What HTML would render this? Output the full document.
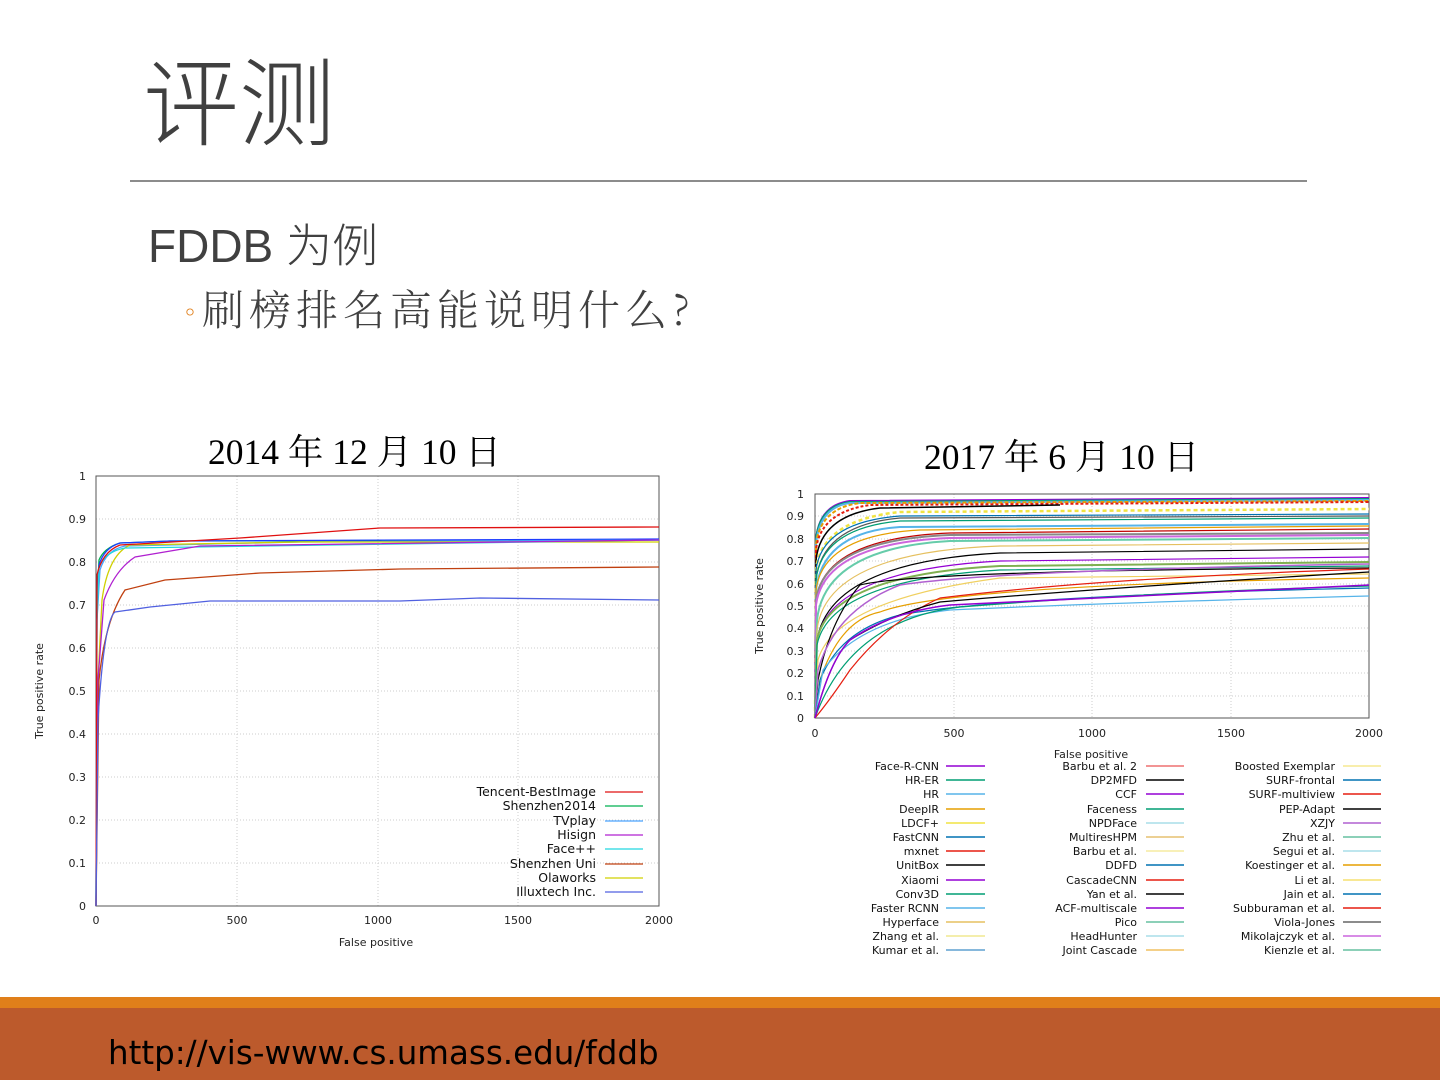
<!DOCTYPE html>
<html><head><meta charset="utf-8"><style>
html,body{margin:0;padding:0;background:#fff;}
body{width:1440px;height:1080px;position:relative;overflow:hidden;font-family:"Liberation Sans","Noto Sans CJK SC",sans-serif;}
.t{position:absolute;white-space:nowrap;}
</style></head><body>
<div class="t" style="left:143px;top:32px;font-size:96px;color:#404040;font-family:'Noto Sans CJK SC',sans-serif;font-weight:300;line-height:130px;">评测</div>
<div style="position:absolute;left:130px;top:180px;width:1177px;height:2px;background:#8c8c8c"></div>
<div class="t" style="left:148px;top:208px;font-size:46px;color:#404040;line-height:70px;font-family:'Liberation Sans Narrow','Liberation Sans','Noto Sans CJK SC',sans-serif;">FDDB <span style="font-family:'Noto Sans CJK SC',sans-serif;font-weight:300">为例</span></div>
<div class="t" style="left:178px;top:280px;font-size:42px;letter-spacing:5px;color:#404040;line-height:56px;font-family:'Noto Serif CJK SC','Noto Sans CJK SC',serif;font-weight:300;"><span style="color:#e07f1a;font-size:24px;vertical-align:4px;letter-spacing:0">◦</span>刷榜排名高能说明什么?</div>
<div class="t" style="left:208px;top:424px;font-size:35.5px;color:#000;font-family:'Liberation Serif','Noto Serif CJK SC',serif;">2014 年 12 月 10 日</div>
<div class="t" style="left:924px;top:429px;font-size:35.5px;color:#000;font-family:'Liberation Serif','Noto Serif CJK SC',serif;">2017 年 6 月 10 日</div>

<svg style="position:absolute;left:0;top:0" width="1440" height="1080" font-family="DejaVu Sans, sans-serif">
<g stroke="#ccc" stroke-dasharray="1,2" stroke-width="1">
<line x1="96" y1="519" x2="659" y2="519"/><line x1="96" y1="562" x2="659" y2="562"/><line x1="96" y1="605" x2="659" y2="605"/><line x1="96" y1="648" x2="659" y2="648"/><line x1="96" y1="691" x2="659" y2="691"/><line x1="96" y1="734" x2="659" y2="734"/><line x1="96" y1="777" x2="659" y2="777"/><line x1="96" y1="820" x2="659" y2="820"/><line x1="96" y1="863" x2="659" y2="863"/>
<line x1="237" y1="476" x2="237" y2="906"/><line x1="378" y1="476" x2="378" y2="906"/><line x1="518" y1="476" x2="518" y2="906"/>
</g>
<rect x="96" y="476" width="563" height="430" fill="none" stroke="#555" stroke-width="1"/>
<g font-size="11" fill="#222" text-anchor="end">
<text x="86" y="480">1</text><text x="86" y="523">0.9</text><text x="86" y="566">0.8</text><text x="86" y="609">0.7</text><text x="86" y="652">0.6</text><text x="86" y="695">0.5</text><text x="86" y="738">0.4</text><text x="86" y="781">0.3</text><text x="86" y="824">0.2</text><text x="86" y="867">0.1</text><text x="86" y="910">0</text>
</g>
<g font-size="11" fill="#222" text-anchor="middle">
<text x="96" y="924">0</text><text x="237" y="924">500</text><text x="378" y="924">1000</text><text x="518" y="924">1500</text><text x="659" y="924">2000</text>
<text x="376" y="946">False positive</text>
<text transform="translate(43,691) rotate(-90)">True positive rate</text>
</g>
<g fill="none" stroke-width="1.3">
<path d="M96,906 L97,600 L99,560 Q104,548 120,543 L170,541 L659,540" stroke="#00b050"/>
<path d="M96,906 L97,610 L99,565 Q104,548 120,543 L170,541 L659,539" stroke="#1e3cff"/>
<path d="M96,906 L97,620 L100,570 Q106,550 125,546 L300,542 L659,540" stroke="#4aa3ff"/>
<path d="M96,906 L98,680 L102,600 Q108,555 130,545 L300,542 L659,542" stroke="#d0d000"/>
<path d="M96,906 L97,620 L99,568 Q104,552 125,548 L400,544 L659,540" stroke="#20d8e0"/>
<path d="M96,906 L98,680 L104,600 Q115,570 135,557 L200,546 L659,540" stroke="#b020d0"/>
<path d="M96,906 L97,575 Q102,552 120,545 L240,538 L380,528 L659,527" stroke="#e01010"/>
<path d="M96,906 L99,680 Q105,620 125,590 L165,580 L260,573 L400,569 L659,567" stroke="#c04010"/>
<path d="M96,906 L98,720 Q104,620 115,612 L150,607 L210,601 L400,601 L480,598 L659,600" stroke="#5060e0"/>
</g>
<g font-size="12.5" fill="#111" text-anchor="end">
<text x="596" y="796">Tencent-BestImage</text><text x="596" y="810">Shenzhen2014</text><text x="596" y="825">TVplay</text><text x="596" y="839">Hisign</text><text x="596" y="853">Face++</text><text x="596" y="868">Shenzhen Uni</text><text x="596" y="882">Olaworks</text><text x="596" y="896">Illuxtech Inc.</text>
</g>
<g stroke-width="1.3">
<line x1="605" x2="643" y1="792" y2="792" stroke="#e01010"/><line x1="605" x2="643" y1="806" y2="806" stroke="#00b050"/><line x1="605" x2="643" y1="821" y2="821" stroke="#4aa3ff"/><line x1="605" x2="643" y1="835" y2="835" stroke="#b020d0"/><line x1="605" x2="643" y1="849" y2="849" stroke="#20d8e0"/><line x1="605" x2="643" y1="864" y2="864" stroke="#c04010"/><line x1="605" x2="643" y1="878" y2="878" stroke="#d0d000"/><line x1="605" x2="643" y1="892" y2="892" stroke="#5060e0"/>
</g>

<g stroke="#ccc" stroke-dasharray="1,2" stroke-width="1">
<line x1="815" y1="516" x2="1369" y2="516"/><line x1="815" y1="539" x2="1369" y2="539"/><line x1="815" y1="561" x2="1369" y2="561"/><line x1="815" y1="584" x2="1369" y2="584"/><line x1="815" y1="606" x2="1369" y2="606"/><line x1="815" y1="628" x2="1369" y2="628"/><line x1="815" y1="651" x2="1369" y2="651"/><line x1="815" y1="673" x2="1369" y2="673"/><line x1="815" y1="696" x2="1369" y2="696"/>
<line x1="954" y1="494" x2="954" y2="718"/><line x1="1092" y1="494" x2="1092" y2="718"/><line x1="1231" y1="494" x2="1231" y2="718"/>
</g>
<rect x="815" y="494" width="554" height="224" fill="none" stroke="#555" stroke-width="1"/>
<g font-size="11" fill="#222" text-anchor="end">
<text x="804" y="498">1</text><text x="804" y="520">0.9</text><text x="804" y="543">0.8</text><text x="804" y="565">0.7</text><text x="804" y="588">0.6</text><text x="804" y="610">0.5</text><text x="804" y="632">0.4</text><text x="804" y="655">0.3</text><text x="804" y="677">0.2</text><text x="804" y="700">0.1</text><text x="804" y="722">0</text>
</g>
<g font-size="11" fill="#222" text-anchor="middle">
<text x="815" y="737">0</text><text x="954" y="737">500</text><text x="1092" y="737">1000</text><text x="1231" y="737">1500</text><text x="1369" y="737">2000</text>
<text x="1091" y="758">False positive</text>
<text transform="translate(763,606) rotate(-90)">True positive rate</text>
</g>
<g fill="none" stroke-width="1.2">
<path d="M815,718 L816,540 Q819,505 850,501 L1369,498" stroke="#9400d3" stroke-width="2"/>
<path d="M815,718 L816,540 Q819,506 850,502 L1369,499" stroke="#009e73" stroke-width="2"/>
<path d="M815,718 L816,545 Q819,507 850,503 L1369,500" stroke="#56b4e9" stroke-width="2"/>
<path d="M815,718 L816,545 Q820,508 860,503 L1369,501" stroke="#e69f00" stroke-width="2" stroke-dasharray="4,2"/>
<path d="M815,718 L816,550 Q820,512 870,505 L1369,502" stroke="#e51e10" stroke-width="2" stroke-dasharray="3,2"/>
<path d="M815,718 L816,560 Q821,515 880,508 L1060,505" stroke="#000" stroke-width="1.5"/>
<path d="M815,718 L816,570 Q821,520 900,512 L1369,509" stroke="#f0e442" stroke-width="2.5" stroke-dasharray="4,3"/>
<path d="M815,718 L816,570 Q822,522 900,516 L1369,514" stroke="#0072b2"/>
<path d="M815,718 L816,580 Q822,525 900,518 L1369,516" stroke="#555"/>
<path d="M815,718 L816,580 Q822,528 900,521 L1369,518" stroke="#009e73"/>
<path d="M815,718 L816,590 Q823,532 900,527 L1369,524" stroke="#56b4e9" stroke-width="2"/>
<path d="M815,718 L816,590 Q823,535 920,530 L1369,526" stroke="#e69f00"/>
<path d="M815,718 L816,600 Q824,538 950,533 L1369,529" stroke="#c00000"/>
<path d="M815,718 L816,600 Q824,540 950,535 L1369,533" stroke="#888" stroke-width="2"/>
<path d="M815,718 L816,605 Q824,543 950,538 L1369,535" stroke="#cc66dd" stroke-width="2"/>
<path d="M815,718 L817,620 Q825,548 950,541 L1369,538" stroke="#66ccaa" stroke-width="2"/>
<path d="M815,718 L817,630 Q826,552 1000,546 L1369,543" stroke="#e5c060"/>
<path d="M815,718 L817,640 Q830,562 1000,553 L1369,549" stroke="#000"/>
<path d="M815,718 L817,640 Q830,570 1000,561 L1369,557" stroke="#9400d3"/>
<path d="M815,718 L817,640 Q830,575 1000,566 L1369,562" stroke="#7fb050" stroke-width="2"/>
<path d="M815,718 L817,645 Q830,580 1000,570 L1369,566" stroke="#009e73"/>
<path d="M815,718 L818,660 Q835,600 1000,578 L1369,574" stroke="#f0d060"/>
<path d="M815,718 L818,680 Q830,620 860,585 Q920,570 1369,568" stroke="#000"/>
<path d="M815,718 L818,670 Q835,610 900,585 Q1000,570 1369,564" stroke="#b060d0" stroke-width="1.5"/>
<path d="M815,718 L820,680 Q840,620 880,612 Q950,585 1369,578" stroke="#e69f00"/>
<path d="M815,718 L820,680 Q840,630 900,615 Q1000,596 1369,588" stroke="#0072b2"/>
<path d="M815,718 L823,670 Q860,620 950,610 Q1100,603 1369,596" stroke="#56b4e9"/>
<path d="M815,718 Q850,620 960,607 Q1150,592 1369,586" stroke="#009e73"/>
<path d="M815,718 Q830,700 850,670 Q890,620 940,598 Q1100,578 1369,569" stroke="#e51e10"/>
<path d="M815,718 Q830,660 850,640 Q890,615 940,602 Q1100,588 1369,572" stroke="#000"/>
<path d="M815,718 Q830,660 850,640 Q890,612 950,605 Q1150,595 1369,585" stroke="#9400d3" stroke-width="1.5"/>
</g>
<g font-size="11" fill="#111" text-anchor="end">
<text x="939" y="770">Face-R-CNN</text><text x="939" y="784">HR-ER</text><text x="939" y="798">HR</text><text x="939" y="813">DeepIR</text><text x="939" y="827">LDCF+</text><text x="939" y="841">FastCNN</text><text x="939" y="855">mxnet</text><text x="939" y="869">UnitBox</text><text x="939" y="884">Xiaomi</text><text x="939" y="898">Conv3D</text><text x="939" y="912">Faster RCNN</text><text x="939" y="926">Hyperface</text><text x="939" y="940">Zhang et al.</text><text x="939" y="954">Kumar et al.</text>
<text x="1137" y="770">Barbu et al. 2</text><text x="1137" y="784">DP2MFD</text><text x="1137" y="798">CCF</text><text x="1137" y="813">Faceness</text><text x="1137" y="827">NPDFace</text><text x="1137" y="841">MultiresHPM</text><text x="1137" y="855">Barbu et al.</text><text x="1137" y="869">DDFD</text><text x="1137" y="884">CascadeCNN</text><text x="1137" y="898">Yan et al.</text><text x="1137" y="912">ACF-multiscale</text><text x="1137" y="926">Pico</text><text x="1137" y="940">HeadHunter</text><text x="1137" y="954">Joint Cascade</text>
<text x="1335" y="770">Boosted Exemplar</text><text x="1335" y="784">SURF-frontal</text><text x="1335" y="798">SURF-multiview</text><text x="1335" y="813">PEP-Adapt</text><text x="1335" y="827">XZJY</text><text x="1335" y="841">Zhu et al.</text><text x="1335" y="855">Segui et al.</text><text x="1335" y="869">Koestinger et al.</text><text x="1335" y="884">Li et al.</text><text x="1335" y="898">Jain et al.</text><text x="1335" y="912">Subburaman et al.</text><text x="1335" y="926">Viola-Jones</text><text x="1335" y="940">Mikolajczyk et al.</text><text x="1335" y="954">Kienzle et al.</text>
</g>
<g stroke-width="1.5">
<line x1="946" x2="985" y1="766" y2="766" stroke="#9400d3"/><line x1="946" x2="985" y1="780" y2="780" stroke="#009e73"/><line x1="946" x2="985" y1="794" y2="794" stroke="#56b4e9"/><line x1="946" x2="985" y1="809" y2="809" stroke="#e69f00"/><line x1="946" x2="985" y1="823" y2="823" stroke="#f0e442"/><line x1="946" x2="985" y1="837" y2="837" stroke="#0072b2"/><line x1="946" x2="985" y1="851" y2="851" stroke="#e51e10"/><line x1="946" x2="985" y1="865" y2="865" stroke="#000"/><line x1="946" x2="985" y1="880" y2="880" stroke="#9400d3"/><line x1="946" x2="985" y1="894" y2="894" stroke="#009e73"/><line x1="946" x2="985" y1="908" y2="908" stroke="#56b4e9"/><line x1="946" x2="985" y1="922" y2="922" stroke="#e5c060"/><line x1="946" x2="985" y1="936" y2="936" stroke="#f0e890"/><line x1="946" x2="985" y1="950" y2="950" stroke="#5fa0d0"/>
<line x1="1146" x2="1184" y1="766" y2="766" stroke="#ee7070"/><line x1="1146" x2="1184" y1="780" y2="780" stroke="#000"/><line x1="1146" x2="1184" y1="794" y2="794" stroke="#9400d3"/><line x1="1146" x2="1184" y1="809" y2="809" stroke="#009e73"/><line x1="1146" x2="1184" y1="823" y2="823" stroke="#a8dde8"/><line x1="1146" x2="1184" y1="837" y2="837" stroke="#e5c070"/><line x1="1146" x2="1184" y1="851" y2="851" stroke="#f5eca0"/><line x1="1146" x2="1184" y1="865" y2="865" stroke="#0072b2"/><line x1="1146" x2="1184" y1="880" y2="880" stroke="#e51e10"/><line x1="1146" x2="1184" y1="894" y2="894" stroke="#000"/><line x1="1146" x2="1184" y1="908" y2="908" stroke="#9400d3"/><line x1="1146" x2="1184" y1="922" y2="922" stroke="#66c0a0"/><line x1="1146" x2="1184" y1="936" y2="936" stroke="#a8dde8"/><line x1="1146" x2="1184" y1="950" y2="950" stroke="#f0c060"/>
<line x1="1343" x2="1381" y1="766" y2="766" stroke="#f5e890"/><line x1="1343" x2="1381" y1="780" y2="780" stroke="#0072b2"/><line x1="1343" x2="1381" y1="794" y2="794" stroke="#e51e10"/><line x1="1343" x2="1381" y1="809" y2="809" stroke="#000"/><line x1="1343" x2="1381" y1="823" y2="823" stroke="#b060d0"/><line x1="1343" x2="1381" y1="837" y2="837" stroke="#66c0a0"/><line x1="1343" x2="1381" y1="851" y2="851" stroke="#a8dde8"/><line x1="1343" x2="1381" y1="865" y2="865" stroke="#e69f00"/><line x1="1343" x2="1381" y1="880" y2="880" stroke="#f5e070"/><line x1="1343" x2="1381" y1="894" y2="894" stroke="#0072b2"/><line x1="1343" x2="1381" y1="908" y2="908" stroke="#e51e10"/><line x1="1343" x2="1381" y1="922" y2="922" stroke="#666"/><line x1="1343" x2="1381" y1="936" y2="936" stroke="#cc66dd"/><line x1="1343" x2="1381" y1="950" y2="950" stroke="#66c0a0"/>
</g>
</svg>

<div style="position:absolute;left:0;top:997px;width:1440px;height:11px;background:#e07f1a"></div>
<div style="position:absolute;left:0;top:1008px;width:1440px;height:72px;background:#bc5a2c"></div>
<div class="t" style="left:108px;top:1033px;font-size:32.5px;color:#000;line-height:40px;font-family:'DejaVu Sans',sans-serif;">http://vis-www.cs.umass.edu/fddb</div>
</body></html>
